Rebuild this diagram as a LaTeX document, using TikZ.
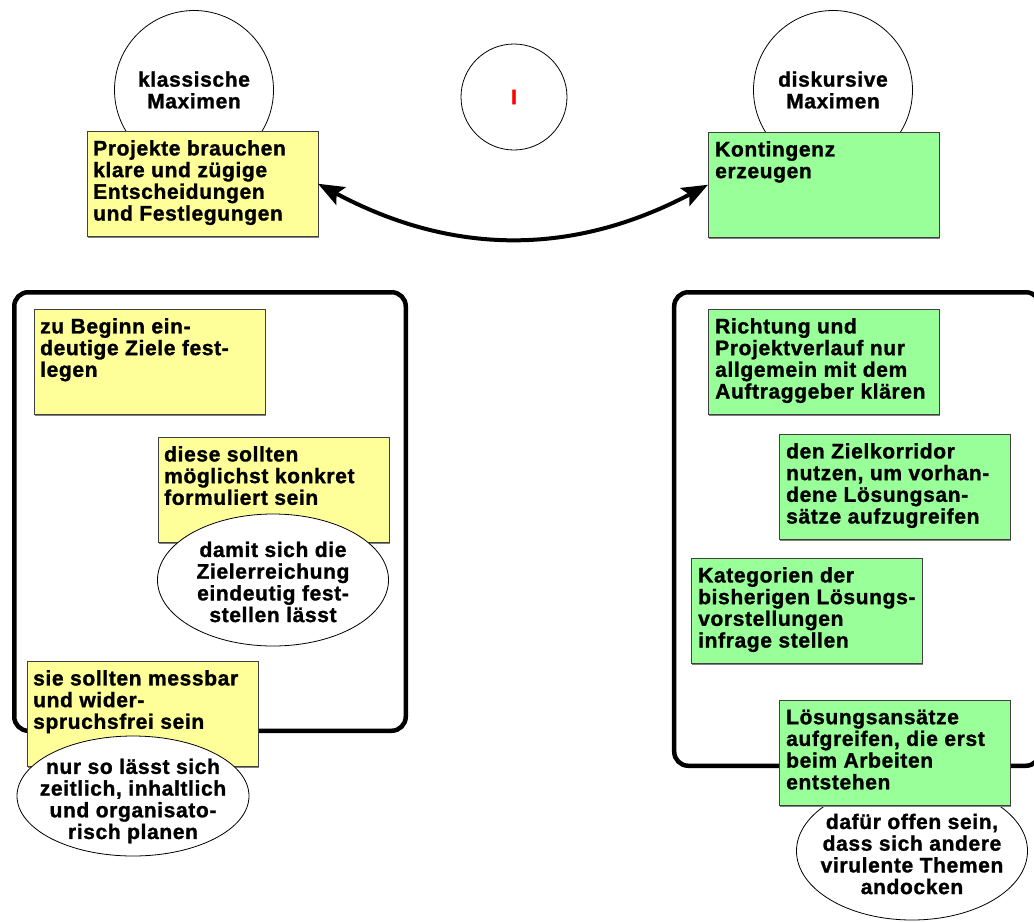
\documentclass[tikz,border=0pt]{standalone}
\usepackage{fontspec}
\newfontfamily\diafont{Liberation Sans}[LetterSpace=3,FakeBold=1.3]
\usetikzlibrary{arrows.meta,shapes.geometric,shadows}
\definecolor{cardyellow}{HTML}{FFFF99}
\definecolor{cardgreen}{HTML}{99FF99}
\definecolor{cardline}{HTML}{404040}
% strut that fixes the height of the first line in a card
\newcommand{\fl}{\rule{0pt}{15pt}}

\begin{document}
\begin{tikzpicture}[x=1pt,y=1pt,
  every node/.style={font=\diafont\bfseries\fontsize{21pt}{21.7pt}\selectfont},
  card/.style={draw=cardline, line width=0.9pt, minimum width=231pt,
    minimum height=105.5pt, anchor=north west, inner sep=0pt, outer sep=0pt,
    drop shadow={shadow xshift=1.3pt, shadow yshift=-1.3pt, fill=black!50, opacity=1}},
  ycard/.style={card, fill=cardyellow},
  gcard/.style={card, fill=cardgreen},
  cardtext/.style={anchor=north west, align=left, inner sep=0pt},
  bubble/.style={draw, line width=0.8pt, fill=white, ellipse, inner sep=0pt},
  bubbletext/.style={align=center, inner sep=0pt},
  maxim/.style={draw, line width=0.8pt, circle, fill=white, inner sep=0pt, align=center},
  frame/.style={draw, line width=4.5pt, rounded corners=14pt, inner sep=0pt, outer sep=0pt},
  link/.style={line width=4pt,
    {Stealth[length=26pt,width=20pt,inset=5pt]}-{Stealth[length=26pt,width=20pt,inset=5pt]}}
]
\clip (0,0) rectangle (1034,-922);

% headings
\node[maxim, minimum size=159pt] (klass) at (194,-90) {klassische\\Maximen};
\node[maxim, minimum size=159pt] (disk) at (833,-90) {diskursive\\Maximen};
\node[maxim, minimum size=106pt, text=red] (mid) at (514,-97) {I};

% bubble that lies behind the last green card
\node[bubble, minimum width=231pt, minimum height=138pt] (e3) at (912,-851) {};

% frames
\node[frame, minimum width=391.5pt, minimum height=438.5pt] (lframe) at (210,-511.5) {};
\node[frame, minimum width=365.75pt, minimum height=473.5pt] (rframe) at (857.1,-529) {};

% top cards
\node[ycard] (b1) at (87,-131) {};
\node[cardtext] (b1t) at ([shift={(6,-9)}]b1.north west)
  {\fl Projekte brauchen\\klare und zügige\\Entscheidungen\\und Festlegungen};
\node[gcard] (g1) at (708,-132) {};
\node[cardtext] (g1t) at ([shift={(7,-9)}]g1.north west)
  {\fl Kontingenz\\erzeugen};

% left column
\node[ycard] (y1) at (34,-309) {};
\node[cardtext] (y1t) at ([shift={(6,-9)}]y1.north west)
  {\fl zu Beginn ein-\\deutige Ziele fest-\\legen};
\node[ycard] (y2) at (158,-437) {};
\node[cardtext] (y2t) at ([shift={(6,-9)}]y2.north west)
  {\fl diese sollten\\möglichst konkret\\formuliert sein};
\node[ycard] (y3) at (27,-661) {};
\node[cardtext] (y3t) at ([shift={(6,-9)}]y3.north west)
  {\fl sie sollten messbar\\und wider-\\spruchsfrei sein};

% right column
\node[gcard] (g2) at (708,-309) {};
\node[cardtext] (g2t) at ([shift={(7,-9)}]g2.north west)
  {\fl Richtung und\\Projektverlauf nur\\allgemein mit dem\\Auftraggeber klären};
\node[gcard] (g3) at (779,-434) {};
\node[cardtext] (g3t) at ([shift={(7,-9)}]g3.north west)
  {\fl den Zielkorridor\\nutzen, um vorhan-\\dene Lösungsan-\\sätze aufzugreifen};
\node[gcard] (g4) at (691,-558) {};
\node[cardtext] (g4t) at ([shift={(7,-9)}]g4.north west)
  {\fl Kategorien der\\bisherigen Lösungs-\\vorstellungen\\infrage stellen};
\node[gcard] (g5) at (779,-700) {};
\node[cardtext] (g5t) at ([shift={(7,-9)}]g5.north west)
  {\fl Lösungsansätze\\aufgreifen, die erst\\beim Arbeiten\\entstehen};

% bubbles on top of the cards
\node[bubble, minimum width=231pt, minimum height=132pt] (e1) at (273,-580) {};
\node[bubbletext] (e1t) at ([yshift=-2pt]e1.center)
  {damit sich die\\Zielerreichung\\eindeutig fest-\\stellen lässt};
\node[bubble, minimum width=232pt, minimum height=120pt] (e2) at (133,-796) {};
\node[bubbletext] (e2t) at ([yshift=-5pt]e2.center)
  {nur so lässt sich\\zeitlich, inhaltlich\\und organisato-\\risch planen};
\node[bubbletext] (e3t) at ([yshift=-3pt]e3.center)
  {dafür offen sein,\\dass sich andere\\virulente Themen\\andocken};

% tension between the two maxims
\draw[link] (b1.east) to[bend right=28] (g1.west);
\end{tikzpicture}
\end{document}
